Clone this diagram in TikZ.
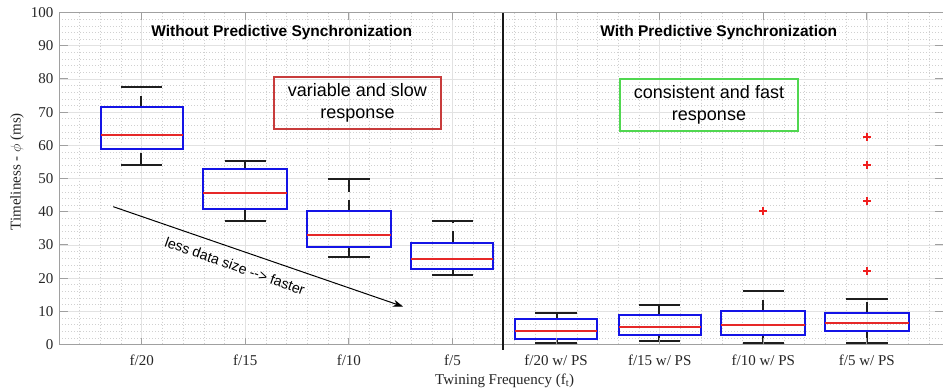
\documentclass[tikz,border=0pt]{standalone}
\usepackage{fontspec}
\setmainfont{Liberation Serif}
\newfontfamily\hsans{Liberation Sans}
\usetikzlibrary{arrows.meta}

\definecolor{cBox}{RGB}{20,20,230}
\definecolor{cMedian}{RGB}{230,40,40}
\definecolor{cOutlier}{RGB}{240,30,30}
\definecolor{cWhisker}{RGB}{30,30,30}
\definecolor{cFrame}{RGB}{160,160,160}
\definecolor{cGridMajor}{RGB}{226,226,226}
\definecolor{cGridMinor}{RGB}{208,208,208}
\definecolor{cNoteRed}{RGB}{200,60,60}
\definecolor{cNoteGreen}{RGB}{80,215,80}
\definecolor{cTickText}{RGB}{38,38,38}

\begin{document}
\begin{tikzpicture}[x=1pt,y=-1pt,
  % cx, cy: data to canvas; sn: put a line centre on an odd pixel edge
  declare function={cx(\i)=38.1+103.6*\i; cy(\v)=344.5-3.32*\v; sn(\a)=2*floor(\a/2)+1;},
  boxframe/.style={color=cBox, line width=1.5pt},
  medianline/.style={color=cMedian, line width=1.5pt},
  whisker/.style={color=cWhisker, line width=1.1pt, dash pattern=on 11.5pt off 8pt},
  whiskercap/.style={color=cWhisker, line width=1.1pt},
  outlier/.style={color=cOutlier, line width=1.5pt},
  gridmajor/.style={color=cGridMajor, line width=0.8pt},
  gridminor/.style={color=cGridMinor, line width=0.5pt, dash pattern=on 1pt off 2pt},
  axisframe/.style={color=cFrame, line width=0.9pt},
  ticklabel/.style={font=\fontsize{15}{15}\selectfont, text=cTickText, inner sep=0pt},
  notebox/.style={font=\hsans\fontsize{18}{21.7}\selectfont, align=center, line width=1.3pt, inner sep=0pt},
  paneltitle/.style={font=\hsans\bfseries\fontsize{15.5}{16}\selectfont, inner sep=0pt, anchor=base},
]
\useasboundingbox[fill=white] (0,0) rectangle (943,391);

% minor grid (dotted)
\foreach \k in {2,...,43}
  \draw[gridminor] ({cx(0.2*\k)},12.5) -- ({cx(0.2*\k)},344.5);
\foreach \v in {2,4,...,98}
  \draw[gridminor] (59,{cy(\v)}) -- (943,{cy(\v)});
% major grid
\foreach \i in {1,...,8}
  \draw[gridmajor] ({cx(\i)},12.5) -- ({cx(\i)},344.5);
\foreach \v in {10,20,...,90}
  \draw[gridmajor] (59,{cy(\v)}) -- (943,{cy(\v)});

% box plots: index / lower whisker / Q1 / median / Q3 / upper whisker
\foreach \i/\lo/\qa/\md/\qb/\hi in {
    1/54.1/58.6/63.3/71.5/77.7,
    2/37.1/40.75/45.4/52.7/55.2,
    3/26.2/29.1/33.0/40.2/49.7,
    4/21.0/22.5/25.7/30.6/37.1,
    5/0.6/1.5/3.8/7.6/9.5,
    6/0.9/2.8/5.5/9.1/12.0,
    7/0.7/3.1/6.0/10.0/16.0,
    8/0.5/3.8/6.5/9.2/13.6}
{
  \draw[whisker] ({sn(cx(\i))},{cy(\qb)}) -- ({sn(cx(\i))},{cy(\hi)});
  \draw[whisker] ({sn(cx(\i))},{cy(\lo)}) -- ({sn(cx(\i))},{cy(\qa)});
  \draw[whiskercap] ({cx(\i-0.2)},{sn(cy(\hi))}) -- ({cx(\i+0.2)},{sn(cy(\hi))})
                    ({cx(\i-0.2)},{sn(cy(\lo))}) -- ({cx(\i+0.2)},{sn(cy(\lo))});
  \draw[boxframe] ({sn(cx(\i-0.4))},{sn(cy(\qa))}) rectangle ({sn(cx(\i+0.4))},{sn(cy(\qb))});
  \draw[medianline] ({sn(cx(\i-0.4))},{sn(cy(\md))}) -- ({sn(cx(\i+0.4))},{sn(cy(\md))});
}

% outliers
\foreach \i/\v in {7/40.1, 8/62.2, 8/54.1, 8/43.1, 8/22.0}
  \draw[outlier] ({sn(cx(\i))-4},{sn(cy(\v))}) -- ++(8,0)
                 ({sn(cx(\i))},{sn(cy(\v))-4}) -- ++(0,8);

% axes frame and ticks
\draw[axisframe] (943,12.5) -- (59,12.5) -- (59,344.5) -- (943,344.5);
\foreach \v in {10,20,...,90} {
  \draw[axisframe] (59,{cy(\v)}) -- ++(8.5,0);
  \draw[axisframe] (943,{cy(\v)}) -- ++(-8.5,0);
}
\foreach \i in {1,...,8} {
  \draw[axisframe] ({cx(\i)},344.5) -- ++(0,-7);
  \draw[axisframe] ({cx(\i)},12.5) -- ++(0,7);
}

% divider between the two groups
\draw[line width=2pt, black!90] (503,12.5) -- (503,350);

% y tick labels
\foreach \v in {0,10,...,100}
  \node[ticklabel, anchor=east, name=ytick\v] at (53.5,{cy(\v)}) {\v};

% x tick labels
\node[ticklabel, anchor=base] (xt1) at ({cx(1)},365) {f/20};
\node[ticklabel, anchor=base] (xt2) at ({cx(2)},365) {f/15};
\node[ticklabel, anchor=base] (xt3) at ({cx(3)},365) {f/10};
\node[ticklabel, anchor=base] (xt4) at ({cx(4)},365) {f/5};
\node[ticklabel, anchor=base] (xt5) at ({cx(5)},365) {f/20 w/ PS};
\node[ticklabel, anchor=base] (xt6) at ({cx(6)},365) {f/15 w/ PS};
\node[ticklabel, anchor=base] (xt7) at ({cx(7)},365) {f/10 w/ PS};
\node[ticklabel, anchor=base] (xt8) at ({cx(8)},365) {f/5 w/ PS};

% axis titles
\node[ticklabel, anchor=base] (xtitle) at (504.7,384.3) {Twining Frequency (f\textsubscript{t})};
\node[ticklabel, rotate=90] (ytitle) at (17,171.7) {Timeliness - $\phi$ (ms)};

% panel titles
\node[paneltitle] (titleL) at (281.7,36.7) {Without Predictive Synchronization};
\node[paneltitle] (titleR) at (718.7,36.2) {With Predictive Synchronization};

% annotation boxes
\node[notebox, draw=cNoteRed, minimum width=167pt, minimum height=52pt] (noteL)
  at (357.5,103) {variable and slow\\response};
\node[notebox, draw=cNoteGreen, minimum width=178pt, minimum height=52pt] (noteR)
  at (709,105) {consistent and fast\\response};

% trend arrow
\coordinate (trendStart) at (113.3,206.7);
\coordinate (trendEnd) at (403,306.5);
\draw[line width=1pt, -{Stealth[length=10pt,width=7pt]}] (trendStart) -- (trendEnd);
\node[font=\hsans\fontsize{14.2}{15}\selectfont, rotate=-19.5, inner sep=0pt] (trendLabel)
  at (235,266) {less data size --> faster};
\end{tikzpicture}
\end{document}
